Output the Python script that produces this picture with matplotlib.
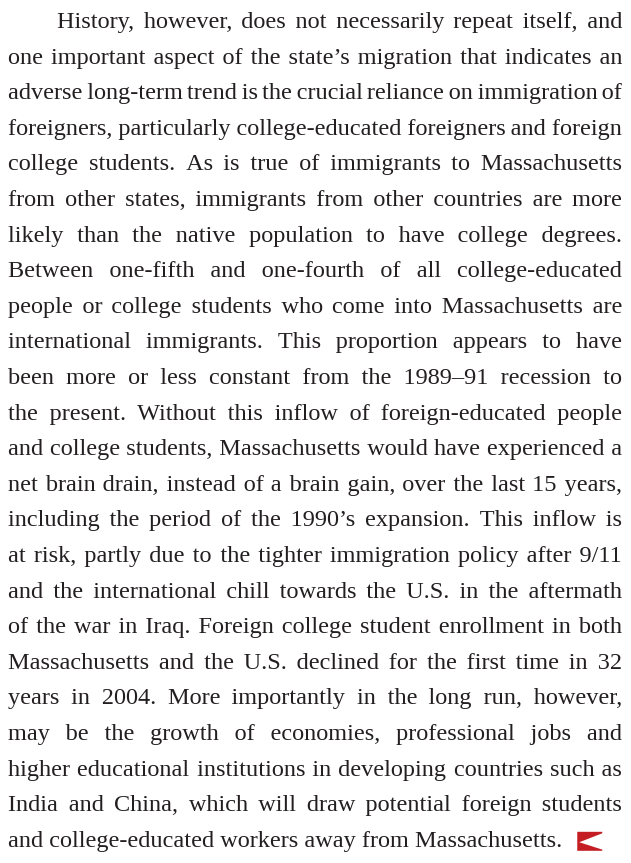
import matplotlib
matplotlib.use("Agg")
import matplotlib.pyplot as plt  # noqa: E402
from matplotlib.patches import Polygon  # noqa: E402

# paragraph, one entry per printed line (last line is not justified)
lines = [
    "History, however, does not necessarily repeat itself, and",
    "one important aspect of the state\u2019s migration that indicates an",
    "adverse long-term trend is the crucial reliance on immigration of",
    "foreigners, particularly college-educated foreigners and foreign",
    "college students. As is true of immigrants to Massachusetts",
    "from other states, immigrants from other countries are more",
    "likely than the native population to have college degrees.",
    "Between one-fifth and one-fourth of all college-educated",
    "people or college students who come into Massachusetts are",
    "international immigrants. This proportion appears to have",
    "been more or less constant from the 1989\u201391 recession to",
    "the present. Without this inflow of foreign-educated people",
    "and college students, Massachusetts would have experienced a",
    "net brain drain, instead of a brain gain, over the last 15 years,",
    "including the period of the 1990\u2019s expansion. This inflow is",
    "at risk, partly due to the tighter immigration policy after 9/11",
    "and the international chill towards the U.S. in the aftermath",
    "of the war in Iraq. Foreign college student enrollment in both",
    "Massachusetts and the U.S. declined for the first time in 32",
    "years in 2004. More importantly in the long run, however,",
    "may be the growth of economies, professional jobs and",
    "higher educational institutions in developing countries such as",
    "India and China, which will draw potential foreign students",
    "and college-educated workers away from Massachusetts.",
]

W, H = 631, 863
LEFT, RIGHT, INDENT = 8, 622, 57
TOP_BASE, LEAD = 28, 35.6
FONT = dict(family=["Liberation Serif", "DejaVu Serif"], size=17.5, color="#231f20")
RED = "#c41e24"

fig = plt.figure(figsize=(W / 100, H / 100), dpi=100)
ax = fig.add_axes([0, 0, 1, 1])
ax.set_xlim(0, W)
ax.set_ylim(H, 0)
ax.axis("off")
r = fig.canvas.get_renderer()


def width(s):
    t = ax.text(0, 0, s, **FONT)
    w = t.get_window_extent(r).width
    t.remove()
    return w


# widths of the space characters used to justify each line
base = width("aa")
spaces = {c: width("a" + c + "a") - base for c in (" ", "\u2009", "\u200a")}
combos = []
for ns in range(0, 5):
    for nt in range(0, 4):
        for nh in range(0, 5):
            if ns + nt + nh == 0:
                continue
            w = ns * spaces[" "] + nt * spaces["\u2009"] + nh * spaces["\u200a"]
            combos.append((w, " " * ns + "\u2009" * nt + "\u200a" * nh))

end_x = 0
for i, line in enumerate(lines):
    y = TOP_BASE + i * LEAD
    words = line.split(" ")
    x0 = INDENT if i == 0 else LEFT
    if i == len(lines) - 1:
        text = line
    else:
        ws = [width(w) for w in words]
        gap = (RIGHT - x0 - sum(ws)) / (len(words) - 1)
        text, done = words[0], 0.0
        for k, w in enumerate(words[1:], 1):
            want = k * gap - done
            cw, cs = min(combos, key=lambda c: abs(c[0] - want))
            done += cw
            text += cs + w
    t = ax.text(x0, y, text, ha="left", va="baseline", **FONT)
    end_x = x0 + t.get_window_extent(r).width

# end-of-article mark: red block with white notch cut in from the right
y = TOP_BASE + (len(lines) - 1) * LEAD
L, R, T, B = end_x + 15, end_x + 40, y - 15, y + 4
mark = Polygon([(L, T), (R, T), (R, T + 1.5), (L + 2, T + 0.55 * (B - T)),
                (R, B - 1.2), (R, B), (L, B)], closed=True, color=RED, lw=0)
ax.add_patch(mark)

fig.savefig("out.png", dpi=100)
plt.close(fig)
